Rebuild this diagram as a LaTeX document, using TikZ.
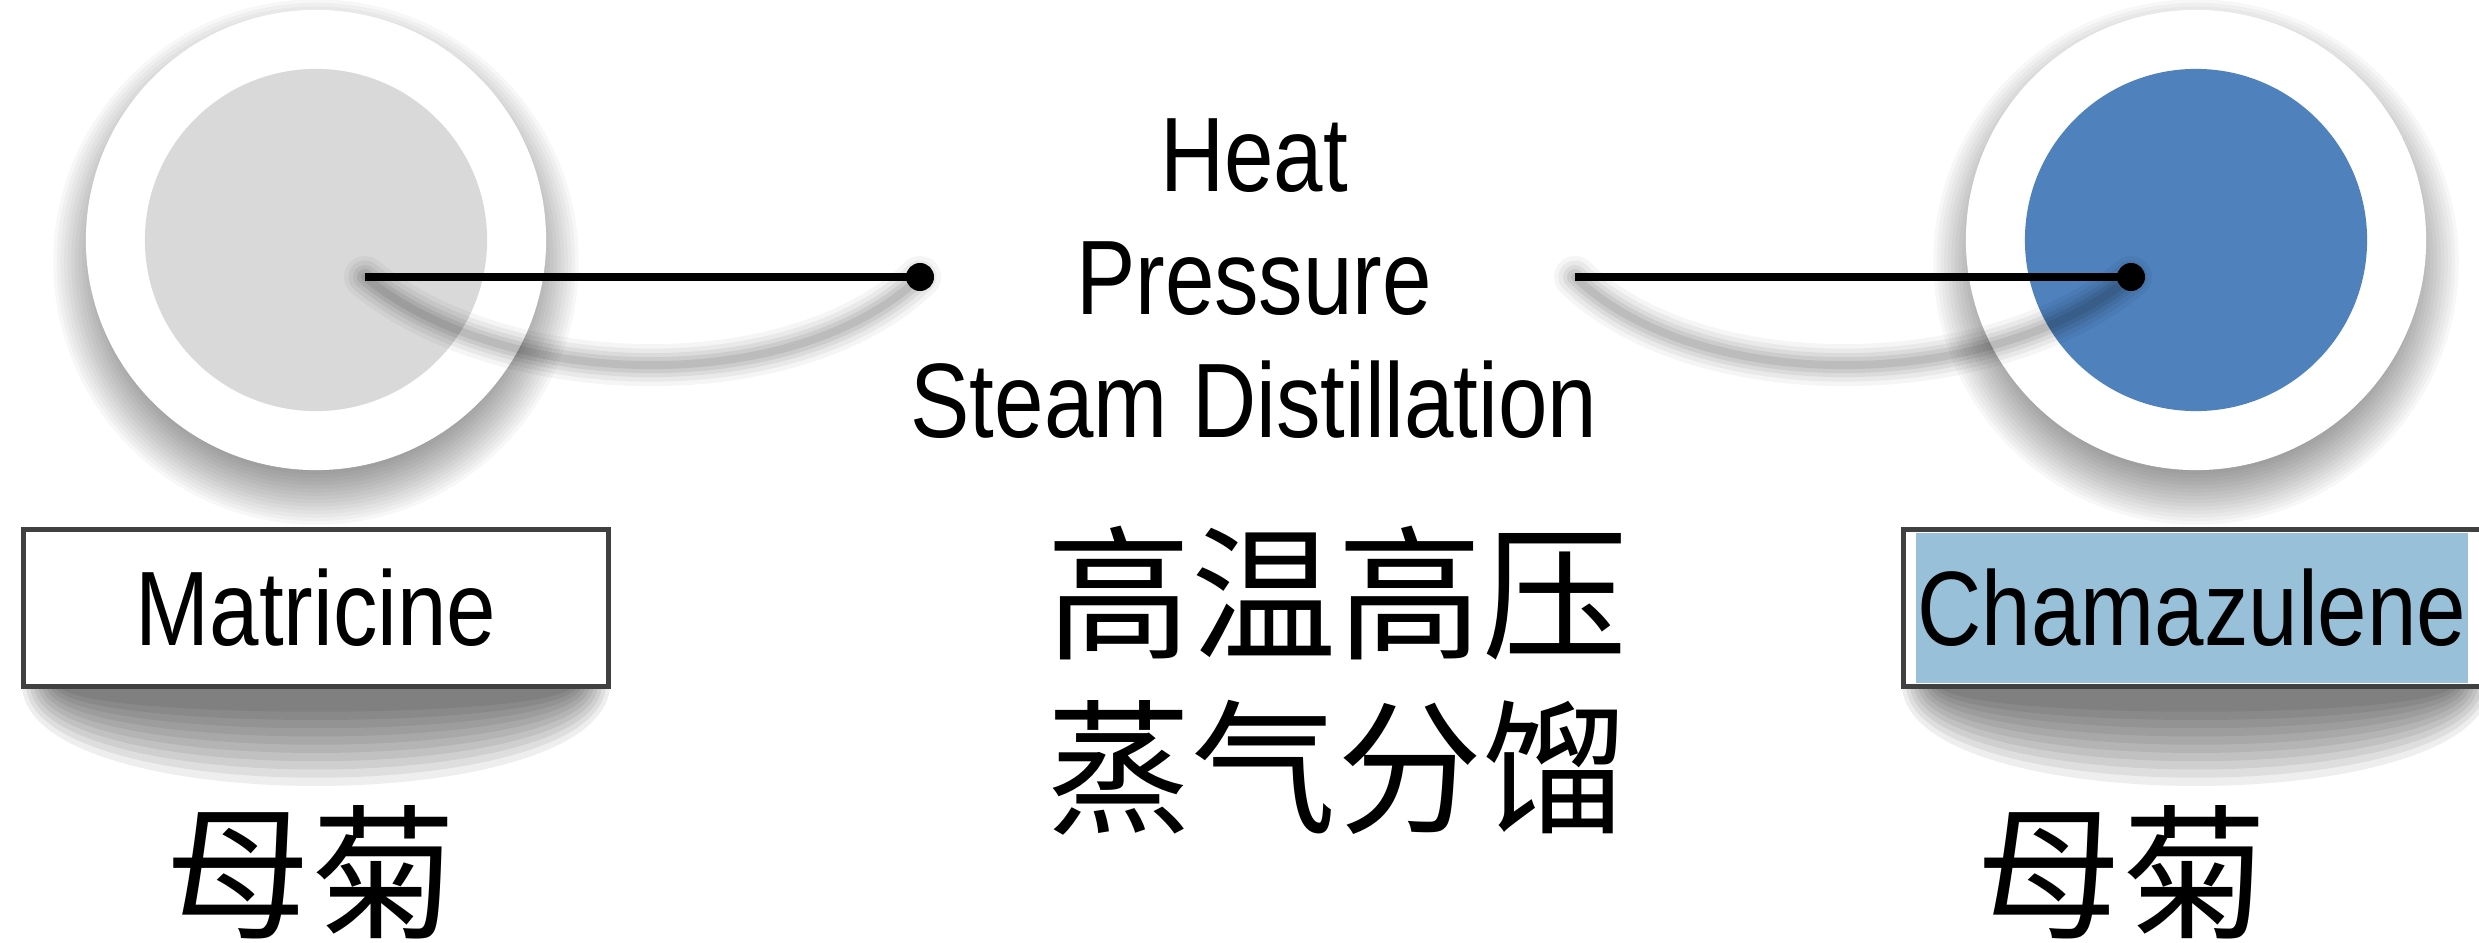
\documentclass[tikz,border=0pt]{standalone}
\usepackage{fontspec}
\newfontfamily\latinfont[FakeStretch=0.84]{Liberation Sans}
\newfontfamily\cjk{Noto Sans CJK SC}
\usetikzlibrary{positioning}
\definecolor{coregray}{HTML}{D9D9D9}
\definecolor{coreblue}{HTML}{4F81BD}
\definecolor{marklight}{HTML}{98C0D9}

\begin{document}
\begin{tikzpicture}[x=0.01cm, y=-0.01cm,
  ring/.style={circle, fill=white, minimum size=4.6cm, inner sep=0pt},
  core/.style={circle, minimum size=3.42cm, inner sep=0pt},
  entxt/.style={font=\latinfont\fontsize{30.1}{34}\selectfont, inner sep=0pt},
  namebox/.style={entxt, draw=black!75, line width=0.05cm, fill=white, minimum width=5.85cm, minimum height=1.56cm},
  cntxt/.style={font=\cjk\fontsize{41.3}{49.5}\selectfont, inner sep=0pt, align=center},
  link/.style={line width=0.08cm},
  dotend/.style={circle, fill=black, minimum size=0.28cm, inner sep=0pt}
]
\useasboundingbox (0,0) rectangle (2479,943);

% soft halos under the rings
\foreach \cx in {316,2196}
  \foreach \i in {0,...,16}
    \fill[black, opacity=0.03] (\cx,262) circle ({2.05cm+\i*0.036cm});

\node[ring] (lOuter) at (316,240) {};
\node[core, fill=coregray] (lInner) at (lOuter) {};
\node[ring] (rOuter) at (2196,240) {};
\node[core, fill=coreblue] (rInner) at (rOuter) {};

% shadows under the name boxes
\foreach \bx in {316,2196}
  \foreach \i in {0,...,9}
    \fill[black, opacity=0.065] (\bx-294+4*\i,684) .. controls (\bx-294+4*\i,820-11*\i) and (\bx+294-4*\i,820-11*\i) .. (\bx+294-4*\i,684) -- cycle;

\node[namebox] (matBox) at (316,608) {Matricine};
\node[namebox] (chaBox) at (2196,608) {};
\node[entxt, fill=marklight, minimum width=5.51cm, minimum height=1.49cm] (chaTxt) at (2192,608) {Chamazulene};

% connector ends
\coordinate (lStart) at (365,277);
\node[dotend] (lDot) at (920,277) {};
\coordinate (rStart) at (1575,277);
\node[dotend] (rDot) at (2131,277) {};

% curved shadows of the connectors
\foreach \w/\o in {0.42/0.04,0.33/0.05,0.24/0.06,0.16/0.07,0.08/0.08}{
  \draw[black, opacity=\o, line width=\w cm, line cap=round]
    (lStart) .. controls +(140,115) and +(-125,120) .. (lDot.center);
  \draw[black, opacity=\o, line width=\w cm, line cap=round]
    (rStart) .. controls +(125,120) and +(-140,115) .. (rDot.center);
}

\draw[link] (lStart) -- (lDot.center);
\draw[link] (rStart) -- (rDot.center);

% process conditions
\node[entxt, anchor=base] (heatTxt) at (1254,192) {Heat};
\node[entxt, anchor=base] (presTxt) at (1254,315) {Pressure};
\node[entxt, anchor=base] (steamTxt) at (1254,437) {Steam Distillation};
\node[cntxt] (procCn) at (1337,681) {高温高压\\蒸气分馏};

\node[cntxt] (lName) at (311,872) {母菊};
\node[cntxt] (rName) at (2122,872) {母菊};
\end{tikzpicture}
\end{document}
